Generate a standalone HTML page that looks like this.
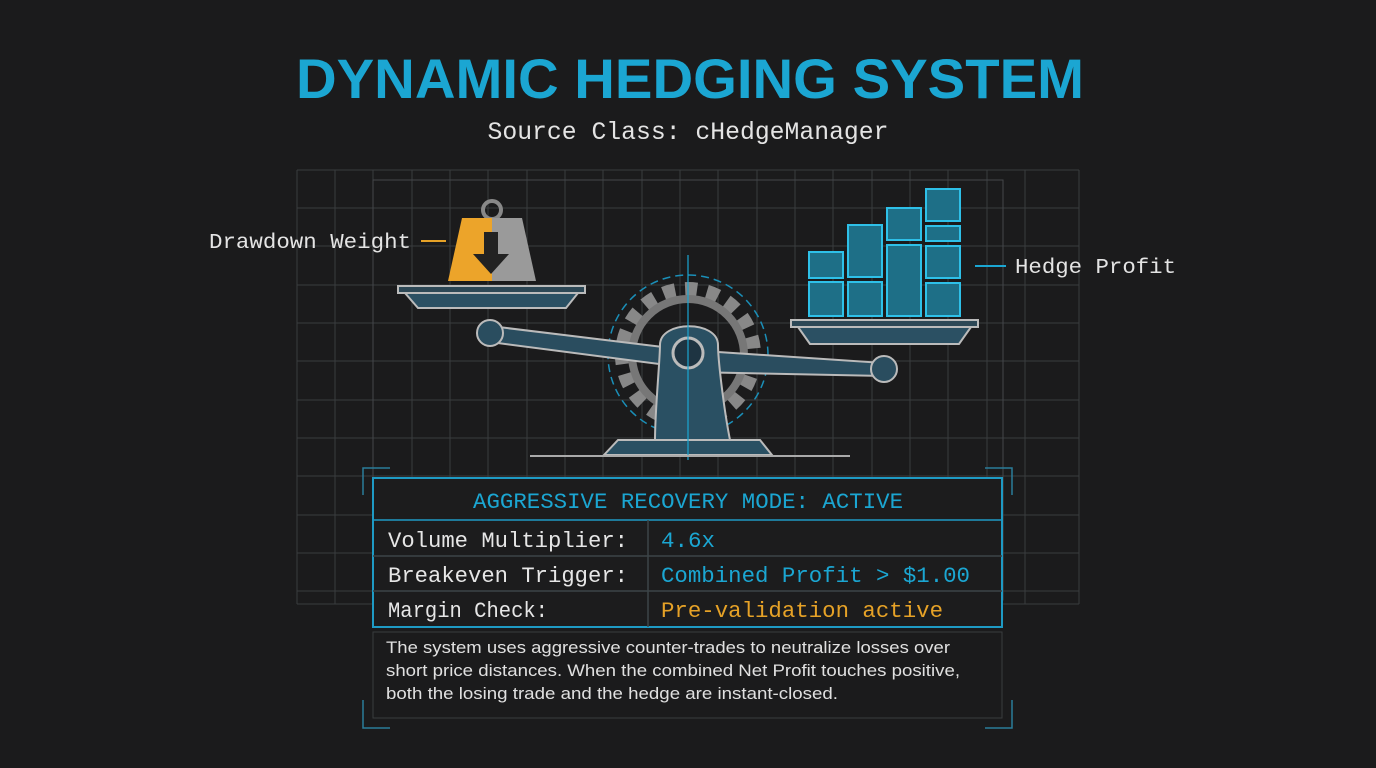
<!DOCTYPE html>
<html><head><meta charset="utf-8"><style>
html,body{margin:0;padding:0;background:#1b1b1b;}
svg{display:block}
</style></head><body>
<svg width="1376" height="768" viewBox="0 0 1376 768" xmlns="http://www.w3.org/2000/svg">
<rect width="1376" height="768" fill="#1b1b1c"/>
<!-- grid -->
<g stroke="#3a3c3e" stroke-width="1">
<path d="M297 170V604M335 170V604M373 170V604M412 170V604M450 170V604M488 170V604M527 170V604M565 170V604M603 170V604M642 170V604M680 170V604M718 170V604M757 170V604M795 170V604M833 170V604M872 170V604M910 170V604M948 170V604M987 170V604M1025 170V604M1079 170V604"/>
<path d="M297 170H1079M297 208H1079M297 246H1079M297 285H1079M297 323H1079M297 361H1079M297 400H1079M297 438H1079M297 476H1079M297 515H1079M297 553H1079M297 591H1079M297 604H1079"/>
</g>
<rect x="373" y="180" width="630" height="420" fill="none" stroke="#44474a"/>
<!-- title -->
<text x="690" y="98" text-anchor="middle" font-family="Liberation Sans, sans-serif" font-weight="bold" font-size="56" fill="#1ba6d2" textLength="788" lengthAdjust="spacingAndGlyphs">DYNAMIC HEDGING SYSTEM</text>
<text x="688" y="139" text-anchor="middle" font-family="Liberation Mono, monospace" font-size="25" fill="#e4e4e4" textLength="401" lengthAdjust="spacingAndGlyphs">Source Class: cHedgeManager</text>
<!-- labels -->
<text x="209" y="248" font-family="Liberation Mono, monospace" font-size="21" fill="#e4e4e4" textLength="202" lengthAdjust="spacingAndGlyphs">Drawdown Weight</text>
<line x1="421" y1="241" x2="446" y2="241" stroke="#e6a227" stroke-width="2"/>
<text x="1015" y="273" font-family="Liberation Mono, monospace" font-size="21" fill="#e4e4e4" textLength="161" lengthAdjust="spacingAndGlyphs">Hedge Profit</text>
<line x1="975" y1="266" x2="1006" y2="266" stroke="#1ba6d2" stroke-width="2"/>
<!-- weight -->
<circle cx="492" cy="210" r="9" fill="none" stroke="#888" stroke-width="4"/>
<path d="M448 281L462 218H492V281Z" fill="#eca42a"/>
<path d="M492 218H522L536 281H492Z" fill="#9a9a9a"/>
<path d="M484 232h14v22h11l-18 20l-18-20h11z" fill="#222"/>
<!-- left pan -->
<path d="M398 286H585V293H398Z" fill="#2d4856" stroke="#bbb" stroke-width="2"/>
<path d="M405 293H578L566 308H418Z" fill="#2b5063" stroke="#bbb" stroke-width="2"/>
<!-- gear -->
<circle cx="688" cy="355" r="66" fill="none" stroke="#888" stroke-width="14" stroke-dasharray="12 10"/>
<circle cx="688" cy="355" r="56" fill="none" stroke="#777" stroke-width="8"/>
<circle cx="688" cy="355" r="80" fill="none" stroke="#1a8fb8" stroke-width="1.5" stroke-dasharray="8 5"/>
<!-- beam -->
<path d="M490 326L688 350L690 368L490 342Z" fill="#2a4d5f" stroke="#bbb" stroke-width="2"/>
<path d="M688 350L884 363L884 376L690 372Z" fill="#2a4d5f" stroke="#bbb" stroke-width="2"/>
<circle cx="490" cy="333" r="13" fill="#2a4d5f" stroke="#bbb" stroke-width="2"/>
<circle cx="884" cy="369" r="13" fill="#2a4d5f" stroke="#bbb" stroke-width="2"/>
<!-- pillar -->
<path d="M655 440C655 410 660 360 660 345C660 320 718 320 718 345C718 360 724 410 730 440Z" fill="#2a5063" stroke="#bbb" stroke-width="2"/>
<path d="M618 440H760L772 455H604Z" fill="#2a5063" stroke="#bbb" stroke-width="2"/>
<circle cx="688" cy="353" r="15" fill="#1e3442" stroke="#bbb" stroke-width="3"/>
<line x1="688" y1="255" x2="688" y2="460" stroke="#1ba6d2" stroke-width="1.2"/>
<line x1="530" y1="456" x2="850" y2="456" stroke="#aaa" stroke-width="2"/>
<!-- right pan -->
<path d="M791 320H978V327H791Z" fill="#2d4856" stroke="#bbb" stroke-width="2"/>
<path d="M798 327H971L959 344H810Z" fill="#2b5063" stroke="#bbb" stroke-width="2"/>
<!-- blocks -->
<g fill="#1e6f87" stroke="#2ec0e8" stroke-width="2">
<rect x="809" y="252" width="34" height="26"/>
<rect x="809" y="282" width="34" height="34"/>
<rect x="848" y="225" width="34" height="52"/>
<rect x="848" y="282" width="34" height="34"/>
<rect x="887" y="208" width="34" height="32"/>
<rect x="887" y="245" width="34" height="71"/>
<rect x="926" y="189" width="34" height="32"/>
<rect x="926" y="226" width="34" height="15"/>
<rect x="926" y="246" width="34" height="32"/>
<rect x="926" y="283" width="34" height="33"/>
</g>
<!-- table -->
<rect x="373" y="478" width="629" height="149" fill="#1c1c1d" stroke="#1e9ac4" stroke-width="2"/>
<g stroke="#3c4448" stroke-width="1.5"><line x1="373" y1="520" x2="1002" y2="520" stroke="#1e9ac4"/><line x1="373" y1="556" x2="1002" y2="556"/><line x1="373" y1="591" x2="1002" y2="591"/><line x1="648" y1="520" x2="648" y2="627"/></g>
<g font-family="Liberation Mono, monospace" font-size="22">
<text x="688" y="508" text-anchor="middle" fill="#1ba6d2" textLength="430" lengthAdjust="spacingAndGlyphs">AGGRESSIVE RECOVERY MODE: ACTIVE</text>
<text x="388" y="547" fill="#e6e6e6" textLength="240" lengthAdjust="spacingAndGlyphs">Volume Multiplier:</text>
<text x="388" y="582" fill="#e6e6e6" textLength="240" lengthAdjust="spacingAndGlyphs">Breakeven Trigger:</text>
<text x="388" y="617" fill="#e6e6e6" textLength="160" lengthAdjust="spacingAndGlyphs">Margin Check:</text>
<text x="661" y="547" fill="#1ba6d2" textLength="54" lengthAdjust="spacingAndGlyphs">4.6x</text>
<text x="661" y="582" fill="#1ba6d2" textLength="309" lengthAdjust="spacingAndGlyphs">Combined Profit &gt; $1.00</text>
<text x="661" y="617" fill="#e6a227" textLength="282" lengthAdjust="spacingAndGlyphs">Pre-validation active</text>
</g>
<rect x="373" y="632" width="629" height="86" fill="none" stroke="#3a3c3e"/>
<g font-family="Liberation Sans, sans-serif" font-size="17" fill="#e0e0e0">
<text x="386" y="653" textLength="564" lengthAdjust="spacingAndGlyphs">The system uses aggressive counter-trades to neutralize losses over</text>
<text x="386" y="676" textLength="574" lengthAdjust="spacingAndGlyphs">short price distances. When the combined Net Profit touches positive,</text>
<text x="386" y="699" textLength="452" lengthAdjust="spacingAndGlyphs">both the losing trade and the hedge are instant-closed.</text>
</g>
<!-- corner brackets -->
<g fill="none" stroke="#2a7d9a" stroke-width="1.5">
<path d="M363 495V468H390"/><path d="M985 468H1012V495"/>
<path d="M363 700V728H390"/><path d="M985 728H1012V700"/>
</g>
</svg>
</body></html>
